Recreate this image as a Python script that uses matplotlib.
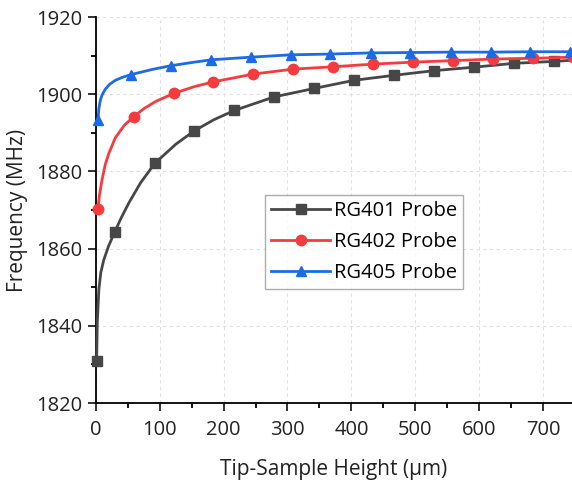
import matplotlib
matplotlib.use("Agg")
import matplotlib.pyplot as plt
from matplotlib.ticker import MultipleLocator

plt.rcParams['font.family'] = ['Open Sans', 'DejaVu Sans']

# values (line samples, markers at the given indices)
rg401_x = [1.5, 2.5, 5, 8, 12.5, 20, 29.7, 40, 51.7, 70, 92.5, 125, 154, 185, 217,
           279, 342, 404, 467, 529, 592, 654, 717, 745]
rg401_y = [1831, 1841, 1849.5, 1853.8, 1857, 1860.6, 1864.3, 1868.0, 1871.8, 1877.0,
           1882.1, 1887.0, 1890.5, 1893.4, 1895.8, 1899.3, 1901.5, 1903.6, 1904.9,
           1906.1, 1907.0, 1908.0, 1908.5, 1908.8]
rg401_marks = [0, 6, 10, 12, 14, 15, 16, 17, 18, 19, 20, 21, 22]

rg402_x = [3.5, 6, 9.9, 15, 20.4, 30.7, 45, 59.5, 75, 93.5, 122, 155, 184, 246,
           309, 371, 434, 496, 559, 621, 684, 746]
rg402_y = [1870.2, 1874.0, 1877.8, 1881.8, 1884.6, 1888.7, 1892.0, 1894.2, 1896.2,
           1898.1, 1900.2, 1902.0, 1903.2, 1905.2, 1906.5, 1907.1, 1907.8, 1908.3,
           1908.7, 1909.1, 1909.3, 1909.6]
rg402_marks = [0, 7, 10, 12, 13, 14, 15, 16, 17, 18, 19, 20, 21]

rg405_x = [3.5, 5, 7.5, 10, 15, 22, 30.8, 42, 55.8, 88, 118, 150, 180, 243, 305,
           367, 430, 492, 555, 618, 680, 742]
rg405_y = [1893.3, 1896.3, 1898.6, 1899.8, 1901.3, 1902.6, 1903.6, 1904.4, 1905.1,
           1906.4, 1907.4, 1908.2, 1908.9, 1909.6, 1910.2, 1910.4, 1910.7, 1910.8,
           1910.9, 1910.9, 1911.0, 1911.0]
rg405_marks = [0, 8, 10, 12, 13, 14, 15, 16, 17, 18, 19, 20, 21]

labels = ["RG401 Probe", "RG402 Probe", "RG405 Probe"]

fig = plt.figure(figsize=(5.72, 4.83), dpi=100)
ax = fig.add_axes([0.1673, 0.1656, 0.8327, 0.7992])

ax.plot(rg401_x, rg401_y, color='#474747', lw=2, marker='s', ms=6.5,
        markevery=rg401_marks, label=labels[0], clip_on=False, zorder=3)
ax.plot(rg402_x, rg402_y, color='#f53b3d', lw=2, marker='o', ms=7.5,
        markevery=rg402_marks, label=labels[1], clip_on=False, zorder=3)
ax.plot(rg405_x, rg405_y, color='#1c6be3', lw=2, marker='^', ms=7.5,
        markevery=rg405_marks, label=labels[2], clip_on=False, zorder=3)

ax.set_xlim(0, 745)
ax.set_ylim(1820, 1920)
ax.xaxis.set_major_locator(MultipleLocator(100))
ax.xaxis.set_minor_locator(MultipleLocator(50))
ax.yaxis.set_major_locator(MultipleLocator(20))
ax.yaxis.set_minor_locator(MultipleLocator(10))

ax.grid(True, which='major', color='#e0e0e0', ls=(0, (3, 3)), lw=0.8)
ax.set_axisbelow(True)

for s in ['top', 'right']:
    ax.spines[s].set_visible(False)
for s in ['left', 'bottom']:
    ax.spines[s].set_linewidth(1.3)

ax.tick_params(which='major', direction='out', length=6, width=1.3, labelsize=14.5,
               colors='#222222')
ax.tick_params(which='minor', direction='out', length=3.5, width=1.3)
ax.tick_params(axis='x', which='major', pad=6)

ax.set_xlabel("Tip-Sample Height (µm)", fontsize=15, labelpad=14, color='#222222')
ax.set_ylabel("Frequency (MHz)", fontsize=15, color='#222222')
ax.yaxis.set_label_coords(-0.142, 0.5)

leg = ax.legend(loc='upper left', bbox_to_anchor=(0.356, 0.539), fontsize=14.5,
                frameon=True, fancybox=False, edgecolor='#999999', handlelength=2.9,
                borderpad=0.3, labelspacing=0.55, handletextpad=0.2, borderaxespad=0)
leg.get_frame().set_linewidth(1.0)

fig.savefig("out.png", dpi=100)
